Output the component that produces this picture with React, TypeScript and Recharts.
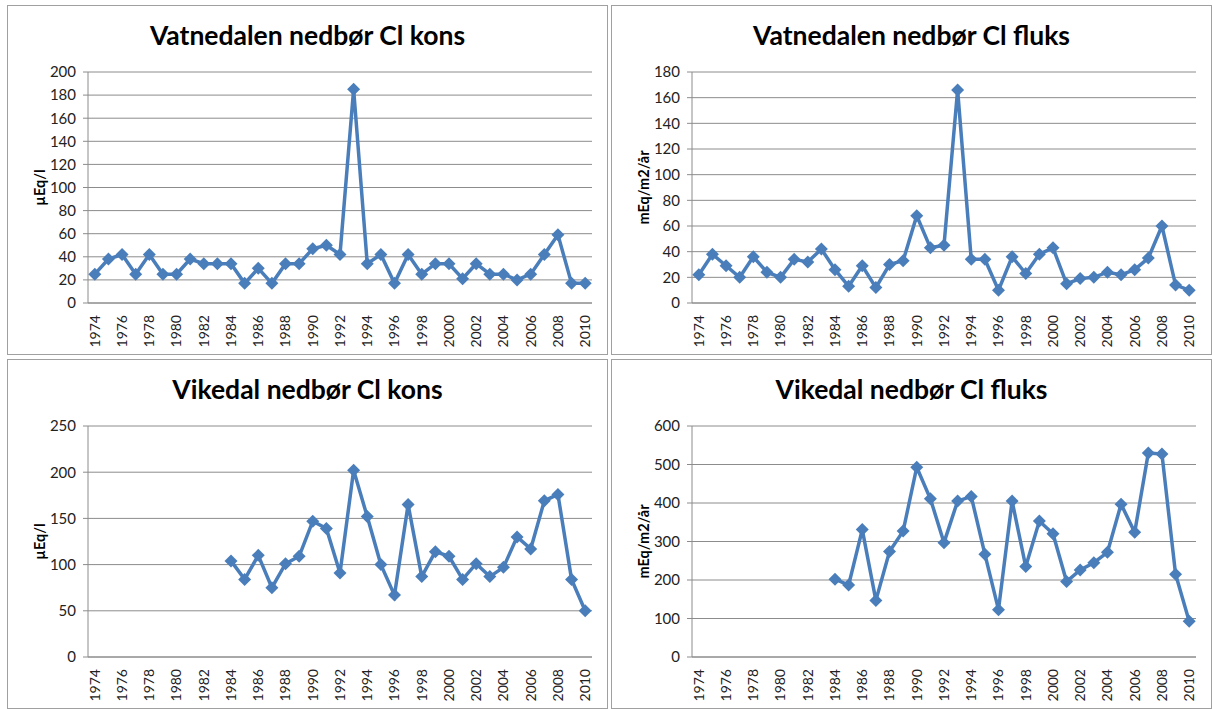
import React, { FC } from "react";
import { LineChart, Line, XAxis, YAxis, CartesianGrid } from "recharts";

const years = [
  1974, 1975, 1976, 1977, 1978, 1979, 1980, 1981, 1982, 1983, 1984, 1985,
  1986, 1987, 1988, 1989, 1990, 1991, 1992, 1993, 1994, 1995, 1996, 1997,
  1998, 1999, 2000, 2001, 2002, 2003, 2004, 2005, 2006, 2007, 2008, 2009,
  2010,
];
const yearLabels = [
  1974, 1976, 1978, 1980, 1982, 1984, 1986, 1988, 1990, 1992, 1994, 1996,
  1998, 2000, 2002, 2004, 2006, 2008, 2010,
];

// Vatnedalen, µEq/l
const vatnedalenKons = [
  25, 38, 42, 25, 42, 25, 25, 38, 34, 34, 34, 17, 30, 17, 34, 34, 47, 50, 42,
  185, 34, 42, 17, 42, 25, 34, 34, 21, 34, 25, 25, 20, 25, 42, 59, 17, 17,
];
// Vatnedalen, mEq/m2/år
const vatnedalenFluks = [
  22, 38, 29, 20, 36, 24, 20, 34, 32, 42, 26, 13, 29, 12, 30, 33, 68, 43, 45,
  166, 34, 34, 10, 36, 23, 38, 43, 15, 19, 20, 24, 22, 26, 35, 60, 14, 10,
];
// Vikedal, µEq/l (no data before 1984)
const vikedalKons = [
  null, null, null, null, null, null, null, null, null, null, 104, 84, 110, 75,
  101, 109, 147, 139, 91, 202, 152, 100, 67, 165, 87, 114, 109, 84, 101, 87, 97,
  130, 117, 169, 176, 84, 50,
];
// Vikedal, mEq/m2/år
const vikedalFluks = [
  null, null, null, null, null, null, null, null, null, null, 202, 187, 331,
  147, 274, 327, 493, 411, 297, 405, 417, 267, 123, 405, 235, 353, 320, 196,
  226, 245, 272, 397, 324, 530, 527, 215, 93,
];

const konsTicksTop = [0, 20, 40, 60, 80, 100, 120, 140, 160, 180, 200];
const fluksTicksTop = [0, 20, 40, 60, 80, 100, 120, 140, 160, 180];
const konsTicksBottom = [0, 50, 100, 150, 200, 250];
const fluksTicksBottom = [0, 100, 200, 300, 400, 500, 600];

const blue = "#4a7ebb";
const gray = "#8c8c8c";
const yearEdges = years.map((y) => y - 0.5).concat([years[years.length - 1] + 0.5]);

const Diamond = (props: any) => {
  const { cx, cy, index } = props;
  if (cx == null || cy == null || props.value == null) return <g key={index} />;
  const r = 6.5;
  return (
    <path
      key={index}
      d={`M${cx},${cy - r}L${cx + r},${cy}L${cx},${cy + r}L${cx - r},${cy}Z`}
      fill={blue}
    />
  );
};

const YearTick = (props: any) => {
  const { x, y, payload } = props;
  return (
    <text
      x={x}
      y={y}
      transform={`rotate(-90 ${x} ${y})`}
      textAnchor="end"
      dy="0.35em"
      fill="#222"
      fontSize={14}
      fontFamily="Lato"
    >
      {payload.value}
    </text>
  );
};

const unitLabel = (unit: string) => (props: any) => {
  const vb = props.viewBox || { x: 0, y: 66, width: 80, height: 231 };
  const cx = vb.x + 32;
  const cy = vb.y + vb.height / 2;
  return (
    <text
      x={cx}
      y={cy}
      transform={`rotate(-90 ${cx} ${cy})`}
      textAnchor="middle"
      dy="0.35em"
      fontWeight="bold"
      fontSize={14.5}
      fontFamily="Lato"
      fill="#000"
    >
      {unit}
    </text>
  );
};

interface PanelProps {
  left: number;
  top: number;
  title: string;
  unit: string;
  values: (number | null)[];
  yTicks: number[];
}

const Panel: FC<PanelProps> = ({ left, top, title, unit, values, yTicks }) => {
  const rows = years.map((year, i) => ({ year, value: values[i] }));
  return (
    <div
      style={{
        position: "absolute",
        left,
        top,
        width: 599,
        height: 348,
        border: "1px solid #a0a0a0",
        background: "#fff",
      }}
    >
      <div
        style={{
          position: "absolute",
          left: 0,
          right: 0,
          top: 13,
          textAlign: "center",
          fontFamily: "Lato",
          fontWeight: "bold",
          fontSize: 26.5,
          color: "#000",
        }}
      >
        {title}
      </div>
      <LineChart
        width={599}
        height={348}
        data={rows}
        margin={{ top: 66, right: 15, left: 0, bottom: 0 }}
      >
        <CartesianGrid xAxisId="edges" vertical={false} stroke={gray} />
        <XAxis
          xAxisId="edges"
          dataKey="year"
          type="number"
          domain={[1973.5, 2010.5]}
          ticks={yearEdges}
          interval={0}
          tick={false}
          height={5}
          tickSize={5}
          axisLine={{ stroke: gray }}
          tickLine={{ stroke: gray }}
        />
        <XAxis
          xAxisId="labels"
          dataKey="year"
          type="number"
          domain={[1973.5, 2010.5]}
          ticks={yearLabels}
          interval={0}
          tick={<YearTick />}
          height={46}
          tickSize={0}
          tickMargin={7}
          axisLine={false}
          tickLine={false}
        />
        <YAxis
          domain={[0, yTicks[yTicks.length - 1]]}
          ticks={yTicks}
          interval={0}
          width={80}
          tickSize={5}
          tickMargin={7}
          axisLine={{ stroke: gray }}
          tickLine={{ stroke: gray }}
          tick={{ fill: "#222", fontSize: 15, fontFamily: "Lato" }}
          label={unitLabel(unit)}
        />
        <Line
          xAxisId="edges"
          dataKey="value"
          stroke={blue}
          strokeWidth={3.5}
          dot={<Diamond />}
          activeDot={false}
          connectNulls={false}
          isAnimationActive={false}
        />
      </LineChart>
    </div>
  );
};

export default function App() {
  return (
    <div>
      <Panel
        left={7}
        top={5}
        title="Vatnedalen nedbør Cl kons"
        unit="µEq/l"
        values={vatnedalenKons}
        yTicks={konsTicksTop}
      />
      <Panel
        left={611}
        top={5}
        title="Vatnedalen nedbør Cl fluks"
        unit="mEq/m2/år"
        values={vatnedalenFluks}
        yTicks={fluksTicksTop}
      />
      <Panel
        left={7}
        top={359}
        title="Vikedal nedbør Cl kons"
        unit="µEq/l"
        values={vikedalKons}
        yTicks={konsTicksBottom}
      />
      <Panel
        left={611}
        top={359}
        title="Vikedal nedbør Cl fluks"
        unit="mEq/m2/år"
        values={vikedalFluks}
        yTicks={fluksTicksBottom}
      />
    </div>
  );
}
